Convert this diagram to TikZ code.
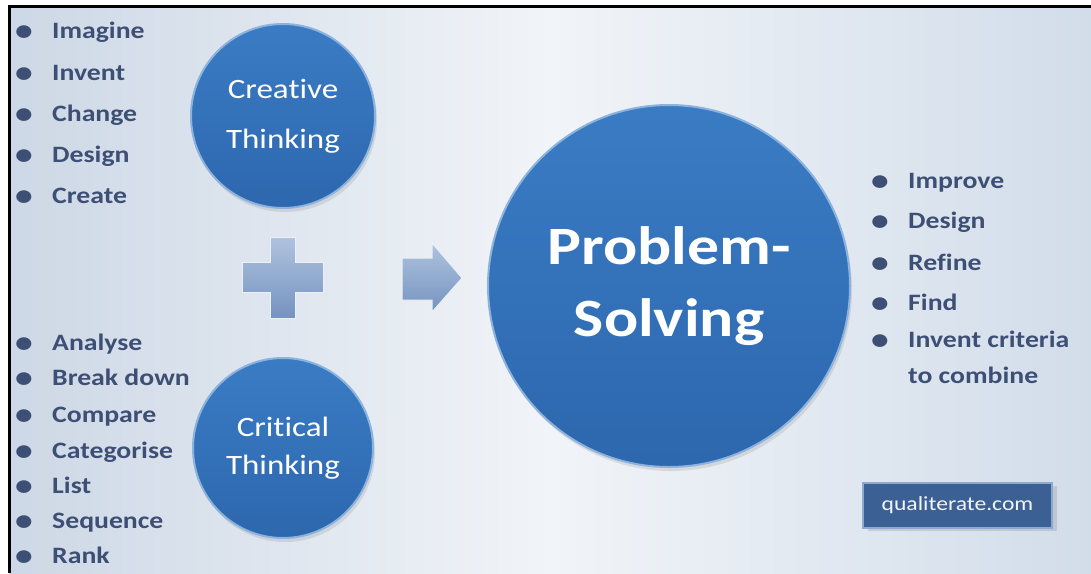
\documentclass[tikz,border=0pt]{standalone}
\usepackage{fontspec}
\setmainfont{Carlito}[FakeStretch=1.18, RawFeature={-liga}]
\usepackage{tikz}
\usetikzlibrary{shadows}
\definecolor{listblue}{HTML}{3D4F74}
\definecolor{bgside}{HTML}{CDD8E6}
\definecolor{bgmid}{HTML}{F1F4F8}
\definecolor{bgright}{HTML}{D2DDEA}
\definecolor{ballhi}{HTML}{3A7CC4}
\definecolor{balllo}{HTML}{2D67AE}
\definecolor{rimblue}{HTML}{8CB3DD}
\definecolor{blockhi}{HTML}{AFC3DE}
\definecolor{blocklo}{HTML}{7593C0}
\definecolor{tagfill}{HTML}{3A6094}
\definecolor{tagrim}{HTML}{8DA9CF}
\newcommand{\bul}{\makebox[37pt][l]{\raisebox{-2pt}{\fontsize{30}{30}\selectfont\textbullet}}}
\tikzset{
  item/.style = {anchor=base west, inner sep=0, text=listblue,
                 font=\fontsize{23.5}{28}\bfseries\selectfont},
  bubble/.style = {circle, draw=rimblue, line width=2pt, top color=ballhi,
                   bottom color=balllo, text=white, align=center, inner sep=0,
                   drop shadow={opacity=0.2, shadow xshift=2pt, shadow yshift=-4pt}},
  block/.style = {draw=white!75!blockhi, line width=1pt, top color=blockhi, bottom color=blocklo},
  tag/.style = {rectangle, fill=tagfill, draw=tagrim, line width=1.5pt,
                minimum width=189pt, minimum height=45pt, text=white!88!tagrim,
                font=\fontsize{20}{24}\selectfont,
                drop shadow={opacity=0.25, shadow xshift=5pt, shadow yshift=-3pt}}
}
\begin{document}
\begin{tikzpicture}[x=1pt, y=-1pt]
\useasboundingbox (0,0) rectangle (1091,573);
% background and frame
\fill [white] (0,0) rectangle (1091,573);
\shade [left color=bgside, right color=bgright, middle color=bgmid] (9,6) rectangle (1091,573);
\draw [line width=3pt] (9,573) -- (9,6) -- (1091,6);

% the three circles
\node [bubble, minimum size=184pt, font=\fontsize{28}{50}\selectfont] (creative) at (283,116) {Creative\\Thinking};
\node [bubble, minimum size=180pt, font=\fontsize{28}{38}\selectfont] (critical) at (283,448) {Critical\\Thinking};
\node [bubble, minimum size=362pt, font=\fontsize{54}{72}\bfseries\selectfont] (problem) at (669,286) {Problem-\\Solving};

% plus and arrow
\path [block] (270,237) -- (295,237) -- (295,262) -- (323,262) -- (323,292) -- (295,292)
  -- (295,318) -- (270,318) -- (270,292) -- (242,292) -- (242,262) -- (270,262) -- cycle;
\path [block] (402,258) -- (432,258) -- (432,243) -- (462,278) -- (432,312) -- (432,300)
  -- (402,300) -- cycle;

% creative thinking
\node [item] (imagine) at (15,38) {\bul Imagine};
\node [item] (invent) at (15,80) {\bul Invent};
\node [item] (change) at (15,121) {\bul Change};
\node [item] (design) at (15,162) {\bul Design};
\node [item] (create) at (15,203) {\bul Create};

% critical thinking
\node [item] (analyse) at (15,350) {\bul Analyse};
\node [item] (breakdown) at (15,385) {\bul Break down};
\node [item] (compare) at (15,422) {\bul Compare};
\node [item] (categorise) at (15,458) {\bul Categorise};
\node [item] (list) at (15,493) {\bul List};
\node [item] (sequence) at (15,528) {\bul Sequence};
\node [item] (rank) at (15,563) {\bul Rank};

% problem solving
\node [item] (improve) at (871,188) {\bul Improve};
\node [item] (design2) at (871,228) {\bul Design};
\node [item] (refine) at (871,270) {\bul Refine};
\node [item] (find) at (871,310) {\bul Find};
\node [item] (criteria) at (871,347) {\bul Invent criteria};
\node [item] (combine) at (908,383) {to combine};

\node [tag] (site) at (957.5,505.5) {qualiterate.com};
\end{tikzpicture}
\end{document}
